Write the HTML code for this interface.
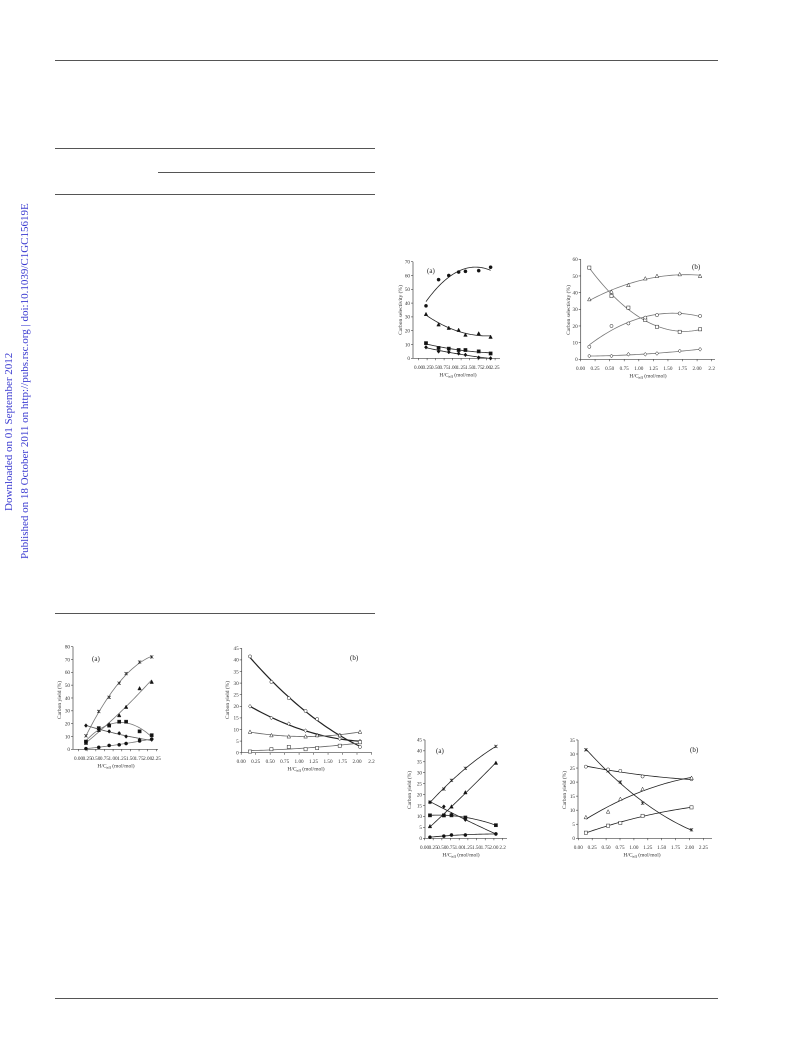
<!DOCTYPE html>
<html><head><meta charset="utf-8">
<style>
html,body{margin:0;padding:0;background:#fff;}
body{width:793px;height:1039px;position:relative;overflow:hidden;font-family:"Liberation Serif",serif;}
.hl{position:absolute;height:1px;background:#555;}
.side{position:absolute;color:#3a3ad0;font-size:11px;white-space:nowrap;transform-origin:0 0;transform:rotate(-90deg);}
svg{position:absolute;left:0;top:0;}
</style></head>
<body>
<div class="hl" style="left:55px;top:60px;width:663px;"></div>
<div class="hl" style="left:55px;top:148px;width:320px;"></div>
<div class="hl" style="left:158px;top:172px;width:217px;"></div>
<div class="hl" style="left:55px;top:194px;width:320px;"></div>
<div class="hl" style="left:55px;top:613px;width:320px;"></div>
<div class="hl" style="left:55px;top:998px;width:663px;"></div>
<div class="side" style="left:3px;top:511px;">Downloaded on 01 September 2012</div>
<div class="side" style="left:19px;top:559px;">Published on 18 October 2011 on http://pubs.rsc.org | doi:10.1039/C1GC15619E</div>
<svg id="svg" width="793" height="1039"></svg>
<script>
// Chart 1 (top a) carbon selectivity
const c1x=[0.1,0.47,0.77,1.06,1.26,1.65,2.0];
const c1circ=[38,57,60,62.5,63,63.5,66];
const c1tri=[32,24.5,22,20.5,17,18,15.5];
const c1sq=[11,7.5,7,6,6,5,3.5];
const c1dia=[8,5,4.5,3.5,2.5,0.5,0];
// Chart 2 (top b)
const c2x=[0.1,0.48,0.77,1.06,1.26,1.65,2.0];
const c2sq=[55,38,31,23.5,19.5,16.5,18];
const c2tri=[36,40.5,44.5,48.5,50,51,50];
const c2circ=[7.5,20,21.5,25,26.5,27.5,26];
const c2dia=[2,2,3,3,3.5,5,6];
// Chart 3 (bottom-left a) carbon yield
const c3x=[0.1,0.47,0.77,1.06,1.26,1.65,2.0];
const c3star=[10.5,29.5,40.5,51.5,59,68,72];
const c3tri=[5,15,19.5,26.5,33,47.5,52.5];
const c3sq=[6,16.5,18.5,21.5,21.5,14,11];
const c3dia=[18.5,15.5,14,12.5,10,7.5,7.5];
const c3circ=[0.5,1.5,3,3.5,4.5,6.5,8];
// Chart 4 (bottom-left b)
const c4x=[0.1,0.47,0.77,1.06,1.26,1.65,2.0];
const c4circ=[41.5,30.5,23.5,18,14.5,7.5,2.5];
const c4dia=[20,15,12.5,9.5,7.5,6,5];
const c4tri=[9,7.5,7,7,7.5,7.5,9];
const c4sq=[0.5,1.5,2.5,1.5,2,3,4.5];
// Chart 5 (bottom-right a)
const c5x=[0.1,0.5,0.72,1.12,2.0];
const c5star=[16.5,22.5,26.5,32,42];
const c5tri=[5.5,10.5,14.5,21,34.5];
const c5dia=[16.5,14.5,11,8.5,2];
const c5sq=[10.5,10.5,10.5,9.5,6];
const c5circ=[0.5,1,1.5,1.5,2];
// Chart 6 (bottom-right b)
const c6x=[0.1,0.5,0.72,1.12,2.0];
const c6star=[31.5,24,20,12.5,3];
const c6circ=[25.5,24.5,24,22,21];
const c6tri=[7.5,9.5,14,17.5,21.5];
const c6sq=[2,4.5,5.5,8,11];
// tick labels
const xt1=["0.00","0.25","0.50","0.75","1.00","1.25","1.50","1.75","2.00","2.25"];
const xt2=["0.00","0.25","0.50","0.75","1.00","1.25","1.50","1.75","2.00","2.2"];

const NS="http://www.w3.org/2000/svg";
const svg=document.getElementById('svg');
function mk(tag,attrs,parent){const e=document.createElementNS(NS,tag);for(const k in attrs)e.setAttribute(k,attrs[k]);(parent||svg).appendChild(e);return e;}
function polyfit(xs,ys){let n=xs.length,S=[0,0,0,0,0],T=[0,0,0];for(let i=0;i<n;i++){let p=1;for(let k=0;k<5;k++){S[k]+=p;if(k<3)T[k]+=p*ys[i];p*=xs[i];}}
 const A=[[S[0],S[1],S[2],T[0]],[S[1],S[2],S[3],T[1]],[S[2],S[3],S[4],T[2]]];
 for(let i=0;i<3;i++){for(let j=i+1;j<3;j++){const f=A[j][i]/A[i][i];for(let k=i;k<4;k++)A[j][k]-=f*A[i][k];}}
 const c=[0,0,0];for(let i=2;i>=0;i--){let s=A[i][3];for(let k=i+1;k<3;k++)s-=A[i][k]*c[k];c[i]=s/A[i][i];}return c;}

function chart(cfg){
 const g=mk('g',{});
 
 
 const X=v=>cfg.ox+v*cfg.sx, Y=v=>cfg.oy-v*cfg.sy;
 const ax=mk('path',{d:`M${cfg.ax} ${Y(cfg.ymax)}V${cfg.oy}H${cfg.xend}`,stroke:'#444','stroke-width':0.7,fill:'none'},g);
 
 
 for(let v=0;v<=cfg.ymax+1e-9;v+=cfg.ystep){
  mk('line',{x1:cfg.ax-2,x2:cfg.ax,y1:Y(v),y2:Y(v),stroke:'#444','stroke-width':0.6},g);
  const t=mk('text',{x:cfg.ax-3,y:Y(v)+1.8,'font-size':5.2,'text-anchor':'end',fill:'#333'},g);
  
  
  t.textContent=v;
 }
 cfg.xt.forEach((lab,i)=>{const v=i*0.25;
  mk('line',{x1:X(v)-cfg.lo,x2:X(v)-cfg.lo,y1:cfg.oy,y2:cfg.oy+2,stroke:'#444','stroke-width':0.6},g);
  const t=mk('text',{x:X(v)-cfg.lo,y:cfg.oy+10.5,'font-size':5.2,'text-anchor':'middle',fill:'#333'},g);
  
  
  t.textContent=lab;});
 const xt=mk('text',{x:cfg.xtx,y:cfg.oy+18,'font-size':5.5,'text-anchor':'middle',fill:'#333'},g);
 
 
 xt.innerHTML='H/C<tspan font-size="4" dy="1.5">eff</tspan><tspan dy="-1.5"> (mol/mol)</tspan>';
 const yt=mk('text',{x:0,y:0,'font-size':5.5,'text-anchor':'middle',fill:'#333',transform:`translate(${cfg.ytx},${cfg.yty}) rotate(-90)`},g);
 
 
 yt.textContent=cfg.ytitle;
 const pl=mk('text',{x:cfg.plx,y:cfg.ply,'font-size':7,fill:'#222'},g);
 
 
 pl.textContent=cfg.panel;
 cfg.series.forEach(s=>{
  const c=polyfit(cfg.x,s.y);let d='';
  const x0=cfg.x[0],x1=cfg.x[cfg.x.length-1];
  for(let i=0;i<=40;i++){const v=x0+(x1-x0)*i/40;d+=(i?'L':'M')+X(v).toFixed(2)+' '+Y(c[0]+c[1]*v+c[2]*v*v).toFixed(2);}
  const p=mk('path',{d,stroke:s.lc||'#222','stroke-width':s.lw||0.8,fill:'none'},g);
  
  
  s.y.forEach((v,i)=>{
   const px=X(cfg.x[i]),py=Y(v),r=1.6,m=s.m;const fill=m[0]==='f'?'#111':'#fff';let e;
   const at={stroke:'#222','stroke-width':0.5,fill};
   if(m.endsWith('circ'))e=mk('circle',Object.assign({cx:px,cy:py,r},at),g);
   else if(m.endsWith('sq'))e=mk('rect',Object.assign({x:px-r,y:py-r,width:2*r,height:2*r},at),g);
   else if(m.endsWith('tri'))e=mk('path',Object.assign({d:`M${px} ${py-r-0.3}L${px+r+0.2} ${py+r}L${px-r-0.2} ${py+r}Z`},at),g);
   else if(m.endsWith('dia'))e=mk('path',Object.assign({d:`M${px} ${py-r-0.3}L${px+r} ${py}L${px} ${py+r+0.3}L${px-r} ${py}Z`},at),g);
   else e=mk('path',{d:`M${px-r} ${py-r}L${px+r} ${py+r}M${px+r} ${py-r}L${px-r} ${py+r}M${px} ${py-r}V${py+r}`,stroke:'#222','stroke-width':0.6},g);
   
   
  });
 });
}
chart({name:'selectivity-chart-a',x:c1x,ox:422.6,oy:358.3,sx:34,sy:1.38,ax:413,xend:500,ymax:70,ystep:10,xt:xt1,lo:4,xtx:458,ytx:402,yty:310,ytitle:'Carbon selectivity (%)',panel:'(a)',plx:427,ply:273,
 series:[{name:'circle-series',y:c1circ,m:'fcirc'},{name:'triangle-series',y:c1tri,m:'ftri'},{name:'square-series',y:c1sq,m:'fsq'},{name:'diamond-series',y:c1dia,m:'fdia'}]});
chart({name:'selectivity-chart-b',x:c2x,ox:583.5,oy:359.3,sx:58.3,sy:1.667,ax:580.7,xend:715,ymax:60,ystep:10,xt:xt2,lo:3,xtx:648,ytx:570,yty:310,ytitle:'Carbon selectivity (%)',panel:'(b)',plx:692,ply:269,
 series:[{name:'square-series',y:c2sq,m:'osq',lc:'#777'},{name:'triangle-series',y:c2tri,m:'otri',lc:'#777'},{name:'circle-series',y:c2circ,m:'ocirc',lc:'#777'},{name:'diamond-series',y:c2dia,m:'odia',lc:'#777'}]});
chart({name:'yield-chart-a',x:c3x,ox:82.5,oy:749.3,sx:34.6,sy:1.283,ax:73,xend:158,ymax:80,ystep:10,xt:xt1,lo:4,xtx:116,ytx:61,yty:700,ytitle:'Carbon yield (%)',panel:'(a)',plx:92,ply:661,
 series:[{name:'star-series',y:c3star,m:'x',lc:'#777'},{name:'triangle-series',y:c3tri,m:'ftri',lc:'#777'},{name:'square-series',y:c3sq,m:'fsq',lc:'#777'},{name:'diamond-series',y:c3dia,m:'fdia',lc:'#555'},{name:'circle-series',y:c3circ,m:'fcirc',lc:'#777'}]});
chart({name:'yield-chart-b',x:c4x,ox:244.2,oy:752.7,sx:57.9,sy:2.32,ax:241.7,xend:372,ymax:45,ystep:5,xt:xt2,lo:3,xtx:306,ytx:229,yty:700,ytitle:'Carbon yield (%)',panel:'(b)',plx:350,ply:660,
 series:[{name:'circle-series',y:c4circ,m:'ocirc',lw:1.2},{name:'diamond-series',y:c4dia,m:'odia',lw:1.2},{name:'triangle-series',y:c4tri,m:'otri',lc:'#666'},{name:'square-series',y:c4sq,m:'osq',lc:'#666'}]});
chart({name:'yield-chart-c',x:c5x,ox:426.5,oy:838.3,sx:34.7,sy:2.187,ax:425,xend:507,ymax:45,ystep:5,xt:xt2,lo:2,xtx:461,ytx:411,yty:790,ytitle:'Carbon yield (%)',panel:'(a)',plx:436,ply:753,
 series:[{name:'star-series',y:c5star,m:'x'},{name:'triangle-series',y:c5tri,m:'ftri'},{name:'diamond-series',y:c5dia,m:'fdia'},{name:'square-series',y:c5sq,m:'fsq'},{name:'circle-series',y:c5circ,m:'fcirc'}]});
chart({name:'yield-chart-d',x:c6x,ox:580.3,oy:838.3,sx:55.6,sy:2.81,ax:578,xend:712,ymax:35,ystep:5,xt:xt1,lo:2,xtx:642,ytx:566,yty:790,ytitle:'Carbon yield (%)',panel:'(b)',plx:690,ply:752,
 series:[{name:'star-series',y:c6star,m:'x'},{name:'circle-series',y:c6circ,m:'ocirc'},{name:'triangle-series',y:c6tri,m:'otri'},{name:'square-series',y:c6sq,m:'osq'}]});
</script>
</body></html>
